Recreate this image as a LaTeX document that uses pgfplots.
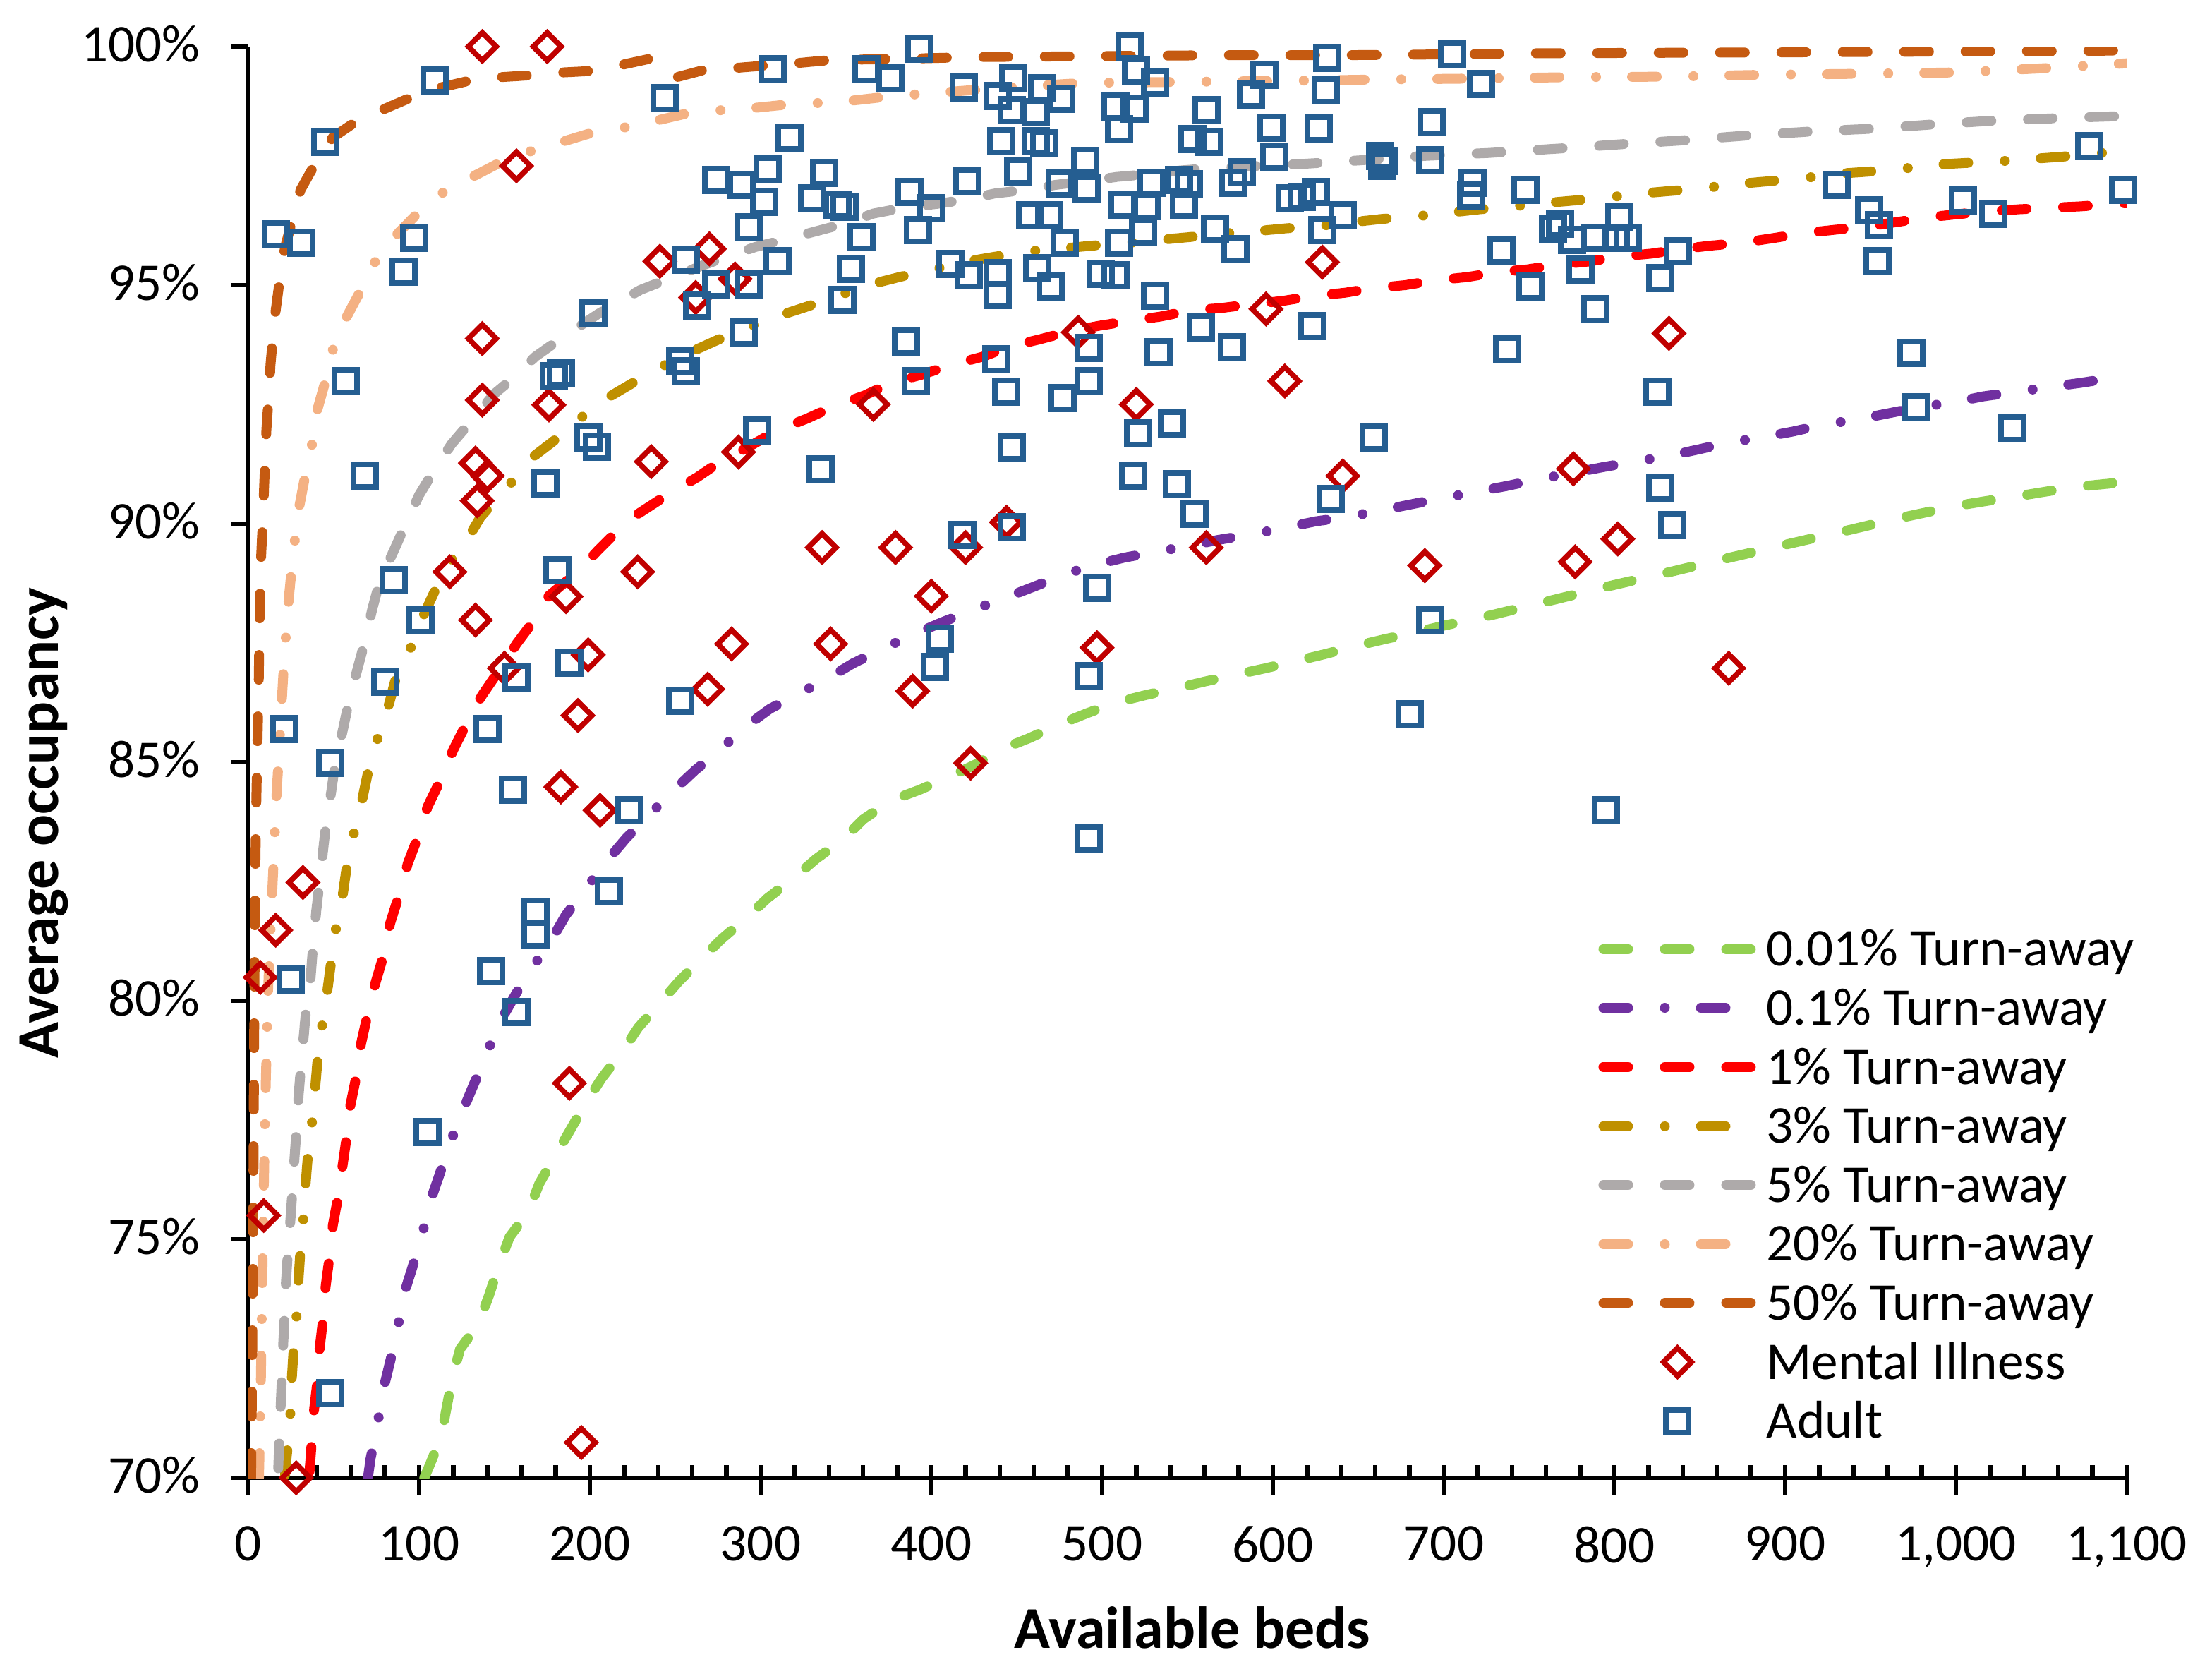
\documentclass[border=0pt]{standalone}
\usepackage{fontspec}
\setmainfont{Carlito}
\usepackage{pgfplots}
\pgfplotsset{compat=1.18}
\definecolor{cA}{HTML}{92D050}
\definecolor{cB}{HTML}{7030A0}
\definecolor{cC}{HTML}{FF0000}
\definecolor{cD}{HTML}{BF9000}
\definecolor{cE}{HTML}{AEAAAA}
\definecolor{cF}{HTML}{F4B183}
\definecolor{cG}{HTML}{C55A11}
\definecolor{cMI}{HTML}{C00000}
\definecolor{cAd}{HTML}{255E91}
\tikzset{
 longdash/.style={dash pattern=on 8.75pt off 13pt},
 longdashdot/.style={dash pattern=on 8.75pt off 13pt on 0.01pt off 12.75pt},
}
\pgfplotsset{midmarklegend/.style={legend image code/.code={\draw[##1] plot coordinates {(26.25pt,0pt)};}}}
\begin{document}
\begin{tikzpicture}
\path[use as bounding box] (-88pt,-69.25pt) rectangle (695.75pt,523.5pt);
\begin{axis}[
  at={(0pt,0pt)}, anchor=south west,
  scale only axis, width=665.5pt, height=507pt,
  xmin=0, xmax=1100, ymin=70, ymax=100,
  axis x line*=bottom, axis y line*=left,
  axis line style={line width=1.7pt, black},
  tick style={line width=1.6pt, black},
  tick align=outside,
  major tick length=6pt, minor tick length=4.5pt,
  every minor tick/.append style={yshift=4.5pt},
  xtick={0,100,...,1100},
  xticklabels={0,100,200,300,400,500,600,700,800,900,{1,000},{1,100}},
  minor x tick num=4,
  extra x ticks={0,100,200,300,400,500,600,700,800,900,1000,1100},
  extra x tick style={tick align=inside, major tick length=4.5pt, xticklabel={}},
  ytick={70,75,80,85,90,95,100},
  yticklabels={70\%,75\%,80\%,85\%,90\%,95\%,100\%},
  tick label style={font=\fontsize{18.8}{21}\selectfont, inner sep=0pt},
  yticklabel style={anchor=east, xshift=-11pt, yshift=1pt},
  xticklabel style={anchor=north, yshift=-11pt},
  xlabel={Available beds}, ylabel={Average occupancy},
  label style={font=\fontsize{21}{24}\selectfont\bfseries},
  xlabel style={at={(axis description cs:0.5026,-0.1193)}, anchor=base},
  ylabel style={at={(axis description cs:-0.1014,0.4577)}, anchor=base},
  clip mode=individual,
  every axis plot/.append style={line width=3.5pt, line cap=round},
  legend image code/.code={\draw[mark repeat=2,mark phase=2,#1] plot coordinates {(0pt,0pt) (26.25pt,0pt) (52.5pt,0pt)};},
  legend cell align=left,
  legend style={at={(axis description cs:0.7185,0.3818)}, anchor=north west, draw=none, fill=none,
    inner sep=0pt, row sep=8.8pt, column sep=3.5pt, font=\fontsize{18.8}{21}\selectfont,
    nodes={inner sep=0pt, text height=12.1pt, text depth=0pt}},
]
% 0.01% Turn-away
\addplot[cA, longdash] coordinates {
(103,70) (106,70.25) (112.8,70.85) (116,71.45) (119.4,72.1) (124,72.7) (134.8,73.23) (141,73.83) (146.7,74.45) (153,75.05)
(164,75.58) (170.4,76.17) (179.4,76.73) (188,77.26) (197.6,77.86) (207,78.38) (218.5,78.91) (228.4,79.44) (241.5,79.97)
(252,80.4) (265,80.87) (277,81.29) (292.4,81.76) (304,82.15) (319.7,82.58) (332.7,82.98) (348,83.37) (360,83.8)
(376.5,84.2) (393,84.42) (409.7,84.68) (426.2,84.96) (441.6,85.28) (457,85.5) (474.8,85.79) (491.4,86.03) (508,86.25)
(525.8,86.41) (543.6,86.55) (560,86.69) (579,86.84) (595.7,86.97) (614.7,87.13) (631,87.27) (649,87.44) (665.6,87.58)
(684.6,87.73) (701,87.87) (719,88.01) (730,88.1) (764,88.4) (798,88.7) (834,89.0) (869,89.3) (905,89.6) (939,89.88)
(966,90.11) (983,90.24) (1001.6,90.38) (1018.7,90.48) (1037,90.58) (1054,90.68) (1072.7,90.78) (1089.8,90.84) (1100,90.9)};
\addlegendentry{0.01\% Turn-away}
% 0.1% Turn-away
\addplot[cB, longdashdot] coordinates {
(70,70) (71.6,70.41) (75.6,71.09) (78,71.7) (82.7,72.39) (87.4,73.1) (89.8,73.7) (95.7,74.37) (101.7,75.05) (105,75.64)
(111.6,76.32) (118,77.0) (124,77.56) (131.7,78.22) (139.6,78.88) (145.5,79.44) (156,80.1) (166,80.7) (174,81.06)
(185.8,81.79) (198.3,82.38) (208,82.85) (221.3,83.41) (235,83.9) (246.7,84.33) (261.6,84.83) (277,85.28) (289,85.69)
(305.5,86.12) (323,86.45) (338.6,86.74) (354,87.07) (372.9,87.4) (388.3,87.66) (406,87.93) (425,88.2) (440.5,88.41)
(459.4,88.67) (478.4,88.94) (494,89.12) (513.2,89.29) (533,89.42) (549,89.52) (568,89.66) (588.6,89.78) (605,89.9)
(625.3,90.05) (645.5,90.15) (690,90.47) (737,90.79) (756.6,90.94) (772.5,91.04) (792.6,91.18) (811.7,91.3) (828.9,91.4)
(848.5,91.55) (866.9,91.7) (885,91.8) (904.3,91.93) (923.2,92.08) (941.6,92.18) (960,92.31) (978.3,92.44) (998,92.54)
(1016.3,92.67) (1034.7,92.76) (1054.3,92.86) (1072.7,92.95) (1091,93.05) (1100,93.09)};
\addlegendentry{0.1\% Turn-away}
% 1% Turn-away
\addplot[cC, longdash] coordinates {
(35.8,70.13) (37.2,70.8) (38.4,71.4) (40.7,72.1) (41.7,72.7) (44,73.4) (45.2,74) (47.6,74.65) (49.5,75.3) (52.6,75.9)
(55,76.5) (57.8,77.2) (59.7,77.8) (63.7,78.5) (66,79.1) (70.8,79.87) (74.4,80.37) (79.6,81.0) (83,81.62) (89,82.3)
(93.4,82.88) (100,83.5) (105,84.07) (113.5,84.7) (120,85.26) (129,85.9) (137,86.41) (151,87.14) (157,87.48) (168.5,88.03)
(176,88.49) (193,88.99) (204.7,89.44) (217,89.88) (228,90.2) (248.6,90.68) (262.8,90.97) (278,91.34) (291,91.57)
(310,91.96) (327,92.2) (343,92.46) (361,92.69) (376.5,92.95) (394,93.12) (412,93.33) (430,93.5) (446.4,93.72)
(463,93.86) (482,94.04) (498.5,94.15) (516,94.25) (534,94.34) (552,94.47) (569.6,94.52) (587.4,94.6) (606,94.67)
(623,94.77) (642,94.84) (659.7,94.94) (677.5,95.0) (695,95.1) (714,95.17) (730.9,95.27) (749,95.33) (767.6,95.43)
(786,95.5) (803,95.6) (821.5,95.66) (840,95.76) (857,95.83) (875.4,95.89) (893.8,95.99) (911,96.09) (929,96.16)
(946.5,96.22) (965,96.32) (983,96.42) (1002,96.49) (1018.8,96.55) (1037,96.59) (1054,96.62) (1072.7,96.65) (1092,96.7) (1100,96.72)};
\addlegendentry{1\% Turn-away}
% 3% Turn-away
\addplot[cD, longdashdot] coordinates {
(21.5,70.06) (23,70.66) (24.6,71.35) (25.3,72.0) (26.5,72.7) (28.2,73.38) (29.2,74.06) (30.4,74.72) (32.2,75.41)
(33.4,76.1) (34.8,76.73) (37.2,77.43) (39,78.12) (40.5,78.75) (43,79.44) (46,80.14) (48.3,80.77) (51,81.46) (55,82.15)
(57.5,82.78) (61.4,83.45) (66,84.1) (69.7,84.73) (75,85.42) (81.5,86.1) (86,86.71) (94,87.3) (101.6,88) (108.8,88.56)
(118,89.19) (130,89.78) (136,90.14) (152.6,90.8) (165.6,91.37) (178.7,91.73) (194,92.2) (209.5,92.62) (223.7,92.92)
(241.5,93.28) (258,93.58) (274.7,93.85) (292.4,94.11) (312.6,94.38) (328,94.56) (347,94.8) (365.8,95.03) (382.4,95.18)
(401.4,95.33) (421.5,95.5) (438,95.6) (457.8,95.71) (477,95.77) (495,95.83) (514,95.88) (534,95.95) (552,96.01)
(569.6,96.08) (589.8,96.13) (607.5,96.19) (627.2,96.24) (646.7,96.32) (664.4,96.39) (683.9,96.44) (703.5,96.52)
(721,96.59) (740.7,96.65) (759,96.72) (778.7,96.78) (797,96.84) (815,96.92) (835,96.98) (854,97.04) (871.8,97.12)
(891,97.18) (910.5,97.24) (929,97.33) (949,97.38) (966.8,97.43) (985.7,97.52) (1005,97.56) (1023.7,97.59) (1042,97.64)
(1061.6,97.69) (1080,97.76) (1100,97.8)};
\addlegendentry{3\% Turn-away}
% 5% Turn-away
\addplot[cE, longdash] coordinates {
(17.5,70.2) (18.2,70.9) (18.9,71.5) (19.6,72.1) (20.4,72.8) (21.2,73.4) (22,74.1) (23.3,74.8) (24.6,75.4) (25.8,76)
(27,76.7) (28.2,77.3) (29.4,78) (30.5,78.5) (31.8,79) (34,79.9) (36.5,80.5) (38,81.2) (39.8,81.9) (41.4,82.4)
(43.6,83.1) (45.5,83.7) (48.6,84.4) (51,85) (55.5,85.7) (59,86.3) (63.5,86.9) (68,87.5) (72.5,88.2) (77,88.8)
(85,89.42) (92,89.98) (100,90.6) (108.5,91.1) (119,91.67) (130,92.13) (144,92.72) (155,93.05) (168,93.5) (183,93.88)
(205,94.4) (229.6,94.9) (246,95.13) (265,95.4) (279,95.58) (297,95.8) (315,95.96) (331.5,96.12) (350.5,96.3)
(366,96.5) (383.6,96.62) (402.5,96.7) (420,96.79) (437,96.92) (456,97.0) (472.5,97.1) (491,97.18) (509,97.27)
(528,97.33) (545,97.4) (562.5,97.45) (581.5,97.48) (598,97.51) (617,97.54) (635,97.58) (653,97.62) (689,97.71)
(707,97.74) (726,97.77) (770.6,97.87) (806.8,97.96) (842.4,98.04) (879,98.14) (915,98.22) (951.4,98.28) (987,98.37)
(1023,98.45) (1059.7,98.5) (1093.5,98.54) (1100,98.55)};
\addlegendentry{5\% Turn-away}
% 20% Turn-away
\addplot[cF, longdashdot] coordinates {
(6.2,70) (6.8,71) (7.3,72) (7.7,73) (8.1,74) (8.5,75) (9,76) (9.5,77) (10,78) (10.7,79) (11.3,80) (12.4,81) (13.6,82)
(14.9,83) (16.3,84.2) (17.6,85) (19.6,86.3) (21.2,87.3) (23.6,88.4) (26,89.3) (29.5,90.3) (34,91.14) (37.7,91.73)
(40.5,92.4) (46,93.1) (49.5,93.65) (56.6,94.27) (66,94.9) (73,95.43) (85,95.99) (99,96.5) (112,96.9) (129,97.23)
(148,97.58) (163,97.78) (180.6,97.97) (199,98.17) (217,98.28) (235.5,98.42) (254.5,98.58) (273.5,98.66) (292,98.7)
(311,98.77) (349,98.85) (376.5,98.96) (439,99.13) (490,99.24) (546,99.26) (604,99.28) (661,99.31) (718,99.33)
(774.5,99.36) (832,99.37) (888,99.41) (945,99.43) (1002,99.46) (1059,99.56) (1100,99.65)};
\addlegendentry{20\% Turn-away}
% 50% Turn-away
\addplot[cG, longdash] coordinates {
(1.6,70) (2.2,72.3) (2.8,75) (3.2,78) (3.5,80) (4,82.6) (4.5,83.9) (5.2,85.2) (6,86.5) (6.5,87.8) (7.2,89.1) (8.5,90.1)
(9.8,91.3) (10.6,92) (12,92.7) (12.9,93.3) (15,94.2) (18.7,95.2) (21.5,95.8) (26,96.4) (30.6,97) (40,97.6) (49.5,98.1)
(66,98.5) (80,98.7) (97,98.96) (111,99.13) (130,99.29) (148,99.36) (166,99.4) (185,99.46) (201,99.49) (219,99.62)
(237,99.76) (251,99.36) (270,99.54) (288,99.56) (305,99.61) (323,99.66) (341,99.72) (378,99.74) (423,99.78)
(459,99.79) (495,99.8) (568,99.82) (640,99.82) (712,99.84) (748,99.86) (900,99.88) (1074,99.91) (1100,99.92)};
\addlegendentry{50\% Turn-away}
% Mental Illness
\addplot[only marks, midmarklegend, mark=square, mark size=3.5pt,
  mark options={draw=cMI, fill=white, line width=1.9pt, rotate=45}] coordinates {
(137,100.0) (175,100.0) (157,97.5) (241,95.5) (270,95.76) (285,95.13) (262,94.74) (137,93.88) (137,92.59) (176,92.49)
(133,91.27) (140,91.0) (134,90.48) (236,91.3) (287,91.5) (366,92.5)
(629,95.48) (596,94.5) (486,94.01) (607,92.99) (520,92.5) (641,91.0) (444,90.03)
(832,93.99) (776,91.15)
(118,88.99) (228,88.99) (336,89.5) (186,88.47) (133,87.98) (199,87.25) (150,86.97) (283,87.48) (341,87.48) (269,86.53)
(193,85.98) (183,84.48) (206,83.99) (32,82.48) (16,81.48) (7,80.49)
(188,78.27) (9,75.5) (195,70.74) (28,70.0)
(379,89.5) (420,89.5) (400,88.48) (389,86.49) (497,87.4) (561,89.5) (689,89.12) (423,84.98)
(777,89.2) (802,89.68) (867,86.97)};
\addlegendentry{Mental Illness}
% Adult
\addplot[only marks, midmarklegend, mark=square, mark size=4pt,
  mark options={draw=cAd, fill=white, line width=2pt}] coordinates {
(109,99.29) (45,98.0) (16,96.06) (31,95.89) (97,95.99) (91,95.28) (244,98.92) (307,99.53) (362,99.52) (317,98.09)
(304,97.43) (274,97.2) (289,97.1) (337,97.35) (302,96.75) (330,96.82) (345,96.69) (349,96.64) (293,96.22) (359,96.0)
(256,95.53) (310,95.5) (353,95.34) (274,95.02) (293,95.02) (263,94.57) (348,94.69) (202,94.41) (290,94.01) (253,93.4)
(256,93.2) (179,93.09) (183,93.15) (57,92.99) (199,91.8) (204,91.61) (298,91.96) (335,91.14) (68,91.0) (174,90.84)
(393,99.96) (376,99.33) (419,99.14) (448,99.33) (439,98.96) (465,99.13) (476,98.91) (447,98.67) (461,98.63) (516,100.0)
(520,99.5) (531,99.25) (508,98.75) (519,98.7) (510,98.27) (561,98.67) (587,99.0) (595,99.41) (632,99.76) (631,99.08)
(599,98.3) (627,98.28) (693,98.42) (705,99.84) (722,99.21) (441,98.02) (461,98.02) (466,97.98) (553,98.06) (563,98.0)
(601,97.69) (663,97.7) (665,97.6) (664,97.5) (692,97.62) (490,97.61) (451,97.38) (421,97.18) (387,96.96) (400,96.61)
(392,96.16) (475,97.13) (491,97.02) (529,97.15) (545,97.21) (551,97.12) (582,97.36) (577,97.15) (512,96.68) (526,96.65)
(548,96.68) (610,96.82) (617,96.85) (625,96.95) (717,97.15) (716,96.88) (458,96.46) (469,96.46) (641,96.46) (629,96.16)
(566,96.19) (478,95.89) (524,96.12) (510,95.89) (578,95.75) (411,95.45) (422,95.2) (439,95.25) (439,94.8) (462,95.35)
(470,94.97) (499,95.23) (508,95.2) (531,94.78) (385,93.81) (391,92.99) (438,93.44) (492,93.68) (558,94.11) (576,93.7)
(533,93.6) (623,94.14) (444,92.76) (477,92.64) (492,92.99) (521,91.9) (541,92.1) (447,91.6) (659,91.8) (518,91.0)
(544,90.83) (554,90.2) (634,90.52)
(1078,97.91) (748,97.0) (930,97.1) (1098,97.0) (949,96.57) (955,96.26) (1004,96.77) (1022,96.49) (954,95.5) (768,96.29)
(764,96.19) (775,95.94) (789,95.99) (803,96.42) (801,95.99) (808,95.99) (734,95.73) (780,95.33) (751,94.97) (837,95.71)
(827,95.15) (789,94.5) (737,93.66) (974,93.58) (825,92.77) (977,92.44) (1033,91.99) (827,90.76) (834,89.97)
(85,88.82) (101,87.98) (181,89.02) (188,87.09) (157,86.78) (80,86.68) (253,86.28) (21,85.7) (140,85.7) (48,84.99)
(155,84.43) (223,84.0) (211,82.3) (168,81.86) (168,81.39) (142,80.62) (25,80.44) (157,79.76)
(105,77.25) (48,71.78)
(418,89.77) (447,89.93) (497,88.65) (405,87.59) (402,86.99) (492,86.8) (692,87.98) (680,86.0) (492,83.4)
(795,84.0)};
\addlegendentry{Adult}
\end{axis}
\end{tikzpicture}
\end{document}
